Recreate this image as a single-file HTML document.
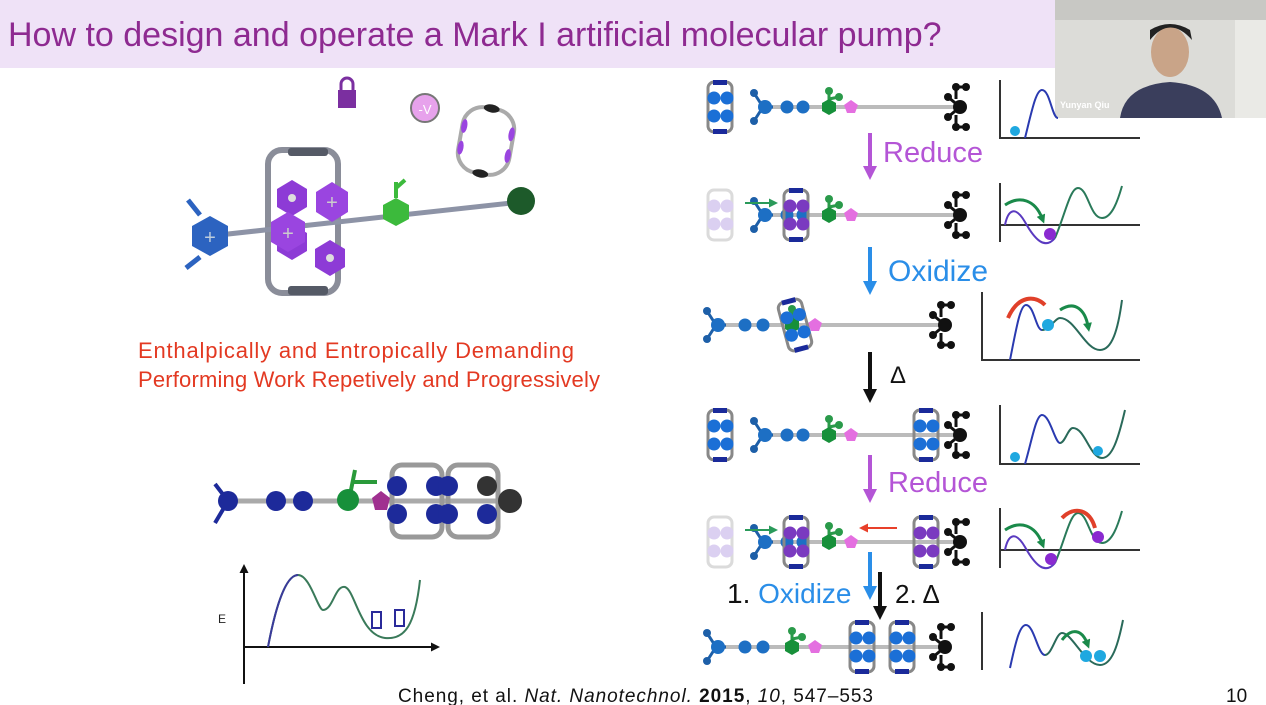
<!DOCTYPE html>
<html><head><meta charset="utf-8"><style>
html,body{margin:0;padding:0;background:#fff;}
svg{display:block;font-family:"Liberation Sans",Arial,sans-serif;}
</style></head><body>
<svg width="1266" height="705" viewBox="0 0 1266 705" xmlns="http://www.w3.org/2000/svg">
<defs>
 <marker id="ah" markerUnits="userSpaceOnUse" markerWidth="14" markerHeight="14" refX="4" refY="7" orient="auto"><path d="M0,0 L14,7 L0,14 z" fill="context-stroke"/></marker>
 <marker id="as" markerUnits="userSpaceOnUse" markerWidth="9" markerHeight="9" refX="3" refY="4.5" orient="auto"><path d="M0,0 L9,4.5 L0,9 z" fill="context-stroke"/></marker>
 <g id="ringB">
  <rect x="-12" y="-25" width="24" height="50" rx="6" fill="none" stroke="#888" stroke-width="3"/>
  <rect x="-7" y="-27" width="14" height="5" fill="#1a2a9a"/><rect x="-7" y="22" width="14" height="5" fill="#1a2a9a"/>
  <circle cx="-6" cy="-9" r="6.5" fill="#1b6fd6"/><circle cx="7" cy="-9" r="6.5" fill="#1b6fd6"/>
  <circle cx="-6" cy="9" r="6.5" fill="#1b6fd6"/><circle cx="7" cy="9" r="6.5" fill="#1b6fd6"/>
 </g>
 <g id="ringP">
  <rect x="-12" y="-25" width="24" height="50" rx="6" fill="none" stroke="#888" stroke-width="3"/>
  <rect x="-7" y="-27" width="14" height="5" fill="#1a2a9a"/><rect x="-7" y="22" width="14" height="5" fill="#1a2a9a"/>
  <circle cx="-6" cy="-9" r="6.5" fill="#7a3ac0"/><circle cx="7" cy="-9" r="6.5" fill="#7a3ac0"/>
  <circle cx="-6" cy="9" r="6.5" fill="#7a3ac0"/><circle cx="7" cy="9" r="6.5" fill="#7a3ac0"/>
 </g>
 <g id="ringF" opacity="0.35">
  <rect x="-12" y="-25" width="24" height="50" rx="6" fill="none" stroke="#999" stroke-width="3"/>
  <circle cx="-6" cy="-9" r="6.5" fill="#9a7ad8"/><circle cx="7" cy="-9" r="6.5" fill="#9a7ad8"/>
  <circle cx="-6" cy="9" r="6.5" fill="#9a7ad8"/><circle cx="7" cy="9" r="6.5" fill="#9a7ad8"/>
 </g>
 <g id="tri">
  <path d="M0,0 L-9,-14 M0,0 L-9,14 M0,0 L10,0" stroke="#1d5fa8" stroke-width="3"/>
  <circle cx="-9" cy="-14" r="4" fill="#1d5fa8"/><circle cx="-9" cy="14" r="4" fill="#1d5fa8"/>
  <circle cx="2" cy="0" r="7" fill="#1d6fc4"/>
 </g>
 <g id="stop">
  <path d="M0,0 L-12,-10 M0,0 L-12,10 M-4,-8 L-4,-20 M-4,8 L-4,20 M-4,-20 L6,-20 M-4,20 L6,20" stroke="#111" stroke-width="3"/>
  <circle cx="0" cy="0" r="7" fill="#111"/>
  <circle cx="-12" cy="-10" r="4" fill="#111"/><circle cx="-12" cy="10" r="4" fill="#111"/>
  <circle cx="-4" cy="-20" r="4" fill="#111"/><circle cx="-4" cy="20" r="4" fill="#111"/>
  <circle cx="6" cy="-20" r="4" fill="#111"/><circle cx="6" cy="20" r="4" fill="#111"/>
 </g>
 <g id="grn">
  <path d="M0,0 L0,-16 M0,-8 L10,-10" stroke="#2a9a4a" stroke-width="3"/>
  <circle cx="0" cy="-16" r="4" fill="#2a9a4a"/><circle cx="10" cy="-10" r="4" fill="#2a9a4a"/>
  <polygon points="0,-8 7,-4 7,4 0,8 -7,4 -7,-4" fill="#17903a"/>
 </g>
 <polygon id="pent" points="0,-7 7,-2 4,6 -4,6 -7,-2" fill="#e46fe0"/>
 <g id="thread">
  <line x1="760" y1="0" x2="955" y2="0" stroke="#bbb" stroke-width="4"/>
  <use href="#tri" x="763" y="0"/>
  <circle cx="787" cy="0" r="6.5" fill="#1d6fc4"/><circle cx="803" cy="0" r="6.5" fill="#1d6fc4"/>
  <use href="#grn" x="829" y="0"/>
  <use href="#pent" x="851" y="0"/>
  <use href="#stop" x="960" y="0"/>
 </g>
 <g id="thread2">
  <line x1="712" y1="0" x2="945" y2="0" stroke="#bbb" stroke-width="4"/>
  <use href="#tri" x="716" y="0"/>
  <circle cx="745" cy="0" r="6.5" fill="#1d6fc4"/><circle cx="763" cy="0" r="6.5" fill="#1d6fc4"/>
  <use href="#grn" x="792" y="0"/>
  <use href="#pent" x="815" y="0"/>
  <use href="#stop" x="945" y="0"/>
 </g>
</defs>

<!-- title bar -->
<rect x="0" y="0" width="1060" height="68" fill="#efe2f7"/>
<text x="8" y="46" font-size="34" fill="#8e2a91">How to design and operate a Mark I artificial molecular pump?</text>

<!-- webcam -->
<rect x="1055" y="0" width="211" height="118" fill="#dcdcd8"/>
<rect x="1055" y="0" width="211" height="20" fill="#c8c8c4"/>
<rect x="1235" y="20" width="31" height="98" fill="#eaeae6"/>
<ellipse cx="1170" cy="52" rx="19" ry="25" fill="#c9a488"/>
<path d="M1150,40 Q1170,15 1192,40 L1190,30 Q1170,18 1150,30z" fill="#222"/>
<path d="M1120,118 Q1125,85 1170,82 Q1215,85 1222,118z" fill="#3a3e5c"/>
<text x="1060" y="108" font-size="9" font-weight="bold" fill="#fff">Yunyan Qiu</text>

<!-- left top molecule -->
<g>
 <rect x="268" y="150" width="70" height="143" rx="14" fill="none" stroke="#8a8d99" stroke-width="6"/>
 <rect x="288" y="148" width="40" height="8" rx="3" fill="#555a66"/>
 <rect x="288" y="286" width="40" height="9" rx="3" fill="#555a66"/>
 <line x1="210" y1="236" x2="520" y2="202" stroke="#8d93a6" stroke-width="5"/>
 <path d="M200,215 L188,200 M200,257 L186,268" stroke="#2c63c0" stroke-width="5"/>
 <polygon points="210,216 228,226 228,246 210,256 192,246 192,226" fill="#2c63c0"/>
 <text x="210" y="244" font-size="20" fill="#bcd" text-anchor="middle">+</text>
 <polygon points="292,180 307,189 307,207 292,216 277,207 277,189" fill="#8d3bd6"/>
 <circle cx="292" cy="198" r="4" fill="#ddd"/>
 <polygon points="292,224 307,233 307,251 292,260 277,251 277,233" fill="#8d3bd6"/>
 <polygon points="288,212 305,222 305,242 288,252 271,242 271,222" fill="#9a45e0"/>
 <text x="288" y="240" font-size="20" fill="#ccc" text-anchor="middle">+</text>
 <polygon points="332,182 348,192 348,212 332,222 316,212 316,192" fill="#9a45e0"/>
 <text x="332" y="209" font-size="20" fill="#ccc" text-anchor="middle">+</text>
 <polygon points="330,240 345,249 345,267 330,276 315,267 315,249" fill="#8d3bd6"/>
 <circle cx="330" cy="258" r="4" fill="#ddd"/>
 <path d="M396,198 L396,182 M396,188 L405,180" stroke="#3cba3c" stroke-width="4"/>
 <polygon points="396,198 409,205 409,219 396,226 383,219 383,205" fill="#3cba3c"/>
 <circle cx="521" cy="201" r="14" fill="#1d5a2a"/>
 <rect x="338" y="90" width="18" height="18" fill="#7b2fa0"/>
 <path d="M341,90 v-6 a6,6 0 0 1 12,0 v6" fill="none" stroke="#7b2fa0" stroke-width="3"/>
 <circle cx="425" cy="108" r="14" fill="#e7a2ec" stroke="#777" stroke-width="2"/>
 <text x="425" y="114" font-size="13" fill="#fff" text-anchor="middle">-V</text>
 <g transform="rotate(10 486 141)">
  <rect x="460" y="108" width="52" height="66" rx="20" fill="none" stroke="#aaa" stroke-width="4"/>
  <ellipse cx="462" cy="130" rx="3" ry="7" fill="#9a45e0"/><ellipse cx="462" cy="152" rx="3" ry="7" fill="#9a45e0"/>
  <ellipse cx="510" cy="130" rx="3" ry="7" fill="#9a45e0"/><ellipse cx="510" cy="152" rx="3" ry="7" fill="#9a45e0"/>
  <ellipse cx="486" cy="108" rx="8" ry="4" fill="#222"/><ellipse cx="486" cy="174" rx="8" ry="4" fill="#222"/>
 </g>
</g>

<!-- red text -->
<text x="356" y="358" font-size="22" fill="#e33922" text-anchor="middle" textLength="436">Enthalpically and Entropically Demanding</text>
<text x="369" y="387" font-size="22" fill="#e33922" text-anchor="middle" textLength="462">Performing Work Repetively and Progressively</text>

<!-- bottom left molecule -->
<g>
 <line x1="225" y1="501" x2="510" y2="501" stroke="#aaa" stroke-width="5"/>
 <rect x="392" y="465" width="50" height="72" rx="10" fill="none" stroke="#999" stroke-width="5"/>
 <rect x="448" y="465" width="50" height="72" rx="10" fill="none" stroke="#999" stroke-width="5"/>
 <path d="M228,501 L215,484 M228,501 L215,523" stroke="#1d2a9a" stroke-width="4"/>
 <circle cx="228" cy="501" r="10" fill="#1d2a9a"/>
 <circle cx="276" cy="501" r="10" fill="#1d2a9a"/><circle cx="303" cy="501" r="10" fill="#1d2a9a"/>
 <path d="M350,495 L355,470 M352,482 L377,482" stroke="#2a9a3a" stroke-width="4"/>
 <circle cx="348" cy="500" r="11" fill="#17903a"/>
 <polygon points="381,491 390,498 387,510 375,510 372,498" fill="#a03090"/>
 <circle cx="397" cy="486" r="10" fill="#1d2a9a"/><circle cx="397" cy="514" r="10" fill="#1d2a9a"/>
 <circle cx="436" cy="486" r="10" fill="#1d2a9a"/><circle cx="448" cy="486" r="10" fill="#1d2a9a"/>
 <circle cx="436" cy="514" r="10" fill="#1d2a9a"/><circle cx="448" cy="514" r="10" fill="#1d2a9a"/>
 <circle cx="487" cy="486" r="10" fill="#333"/><circle cx="487" cy="514" r="10" fill="#1d2a9a"/>
 <circle cx="510" cy="501" r="12" fill="#333"/>
</g>
<!-- bottom left energy plot -->
<g fill="none" stroke-width="2">
 <line x1="244" y1="684" x2="244" y2="570" stroke="#111" marker-end="url(#as)"/>
 <line x1="244" y1="647" x2="434" y2="647" stroke="#111" marker-end="url(#as)"/>
 <path d="M268,647 C275,610 285,575 298,575 C310,575 318,610 323,610 C333,610 335,585 345,587 C355,590 360,635 385,638 C405,640 415,625 420,580" stroke="#3a7a5a"/>
 <path d="M268,647 C275,610 285,575 298,575" stroke="#3a3a9a"/>
 <rect x="372" y="612" width="9" height="16" stroke="#2a2a9a"/>
 <rect x="395" y="610" width="9" height="16" stroke="#2a2a9a"/>
</g>
<text x="218" y="623" font-size="12" fill="#222">E</text>

<!-- right: molecule rows -->
<g transform="translate(0,107)"><use href="#ringB" x="720" y="0"/><use href="#thread"/></g>
<g transform="translate(0,215)"><use href="#ringF" x="720" y="0"/><use href="#thread"/><use href="#ringP" x="796" y="0"/>
 <line x1="745" y1="-12" x2="772" y2="-12" stroke="#2a9a5a" stroke-width="2" marker-end="url(#as)"/></g>
<g transform="translate(0,325)"><use href="#thread2"/><use href="#ringB" x="795" y="0" transform="rotate(-15 795 0)"/></g>
<g transform="translate(0,435)"><use href="#ringB" x="720" y="0"/><use href="#thread"/><use href="#ringB" x="926" y="0"/></g>
<g transform="translate(0,542)"><use href="#ringF" x="720" y="0"/><use href="#thread"/><use href="#ringP" x="796" y="0"/><use href="#ringP" x="926" y="0"/>
 <line x1="745" y1="-12" x2="772" y2="-12" stroke="#2a9a5a" stroke-width="2" marker-end="url(#as)"/>
 <line x1="897" y1="-14" x2="865" y2="-14" stroke="#e8402a" stroke-width="2" marker-end="url(#as)"/></g>
<g transform="translate(0,647)"><use href="#thread2"/><use href="#ringB" x="862" y="0"/><use href="#ringB" x="902" y="0"/></g>

<!-- arrows & labels -->
<g stroke-width="4">
 <line x1="870" y1="133" x2="870" y2="170" stroke="#b455d6" marker-end="url(#ah)"/>
 <line x1="870" y1="247" x2="870" y2="285" stroke="#2a8ee8" marker-end="url(#ah)"/>
 <line x1="870" y1="352" x2="870" y2="393" stroke="#111" marker-end="url(#ah)"/>
 <line x1="870" y1="455" x2="870" y2="493" stroke="#b455d6" marker-end="url(#ah)"/>
 <line x1="870" y1="552" x2="870" y2="590" stroke="#2a8ee8" marker-end="url(#ah)"/>
 <line x1="880" y1="572" x2="880" y2="610" stroke="#111" marker-end="url(#ah)"/>
</g>
<text x="883" y="162" font-size="29" fill="#b455d6">Reduce</text>
<text x="888" y="281" font-size="30" fill="#2a8ee8">Oxidize</text>
<text x="890" y="383" font-size="24" fill="#111">Δ</text>
<text x="888" y="492" font-size="29" fill="#b455d6">Reduce</text>
<text x="727" y="603" font-size="28" fill="#111">1. <tspan fill="#2a8ee8">Oxidize</tspan></text>
<text x="895" y="603" font-size="26" fill="#111">2. Δ</text>

<!-- energy plots -->
<g fill="none" stroke-width="2">
 <path d="M1000,80 V138 H1140" stroke="#333"/>
 <path d="M1025,138 C1032,110 1036,90 1042,90 C1050,90 1052,118 1058,118" stroke="#2a3ab0"/>
 <path d="M1000,183 V242 M1000,225 H1140" stroke="#333"/>
 <path d="M1005,225 C1008,210 1015,205 1025,222 C1035,240 1045,250 1055,238" stroke="#5a3ac0"/>
 <path d="M1055,238 C1065,215 1070,188 1078,188 C1088,188 1090,218 1102,218 C1112,218 1118,200 1122,186" stroke="#2a7a5a"/>
 <path d="M1005,205 C1020,195 1035,200 1042,218" stroke="#1a8a4a" stroke-width="3" marker-end="url(#as)"/>
 <path d="M982,292 V360 H1140" stroke="#333"/>
 <path d="M1010,360 C1016,330 1020,305 1026,305 C1034,305 1036,330 1042,330" stroke="#2a3ab0"/>
 <path d="M1042,330 C1050,330 1055,318 1060,318 C1075,318 1085,350 1100,350 C1112,350 1118,330 1122,300" stroke="#2a6a5a"/>
 <path d="M1008,318 C1018,295 1035,295 1045,305" stroke="#e0402a" stroke-width="4"/>
 <path d="M1060,310 C1075,300 1085,310 1088,326" stroke="#1a8a4a" stroke-width="3" marker-end="url(#as)"/>
 <path d="M1000,405 V464 H1140" stroke="#333"/>
 <path d="M1025,464 C1032,440 1036,415 1042,415 C1050,415 1055,443 1060,443" stroke="#2a3ab0"/>
 <path d="M1060,443 C1065,443 1068,428 1073,428 C1085,428 1090,458 1102,458 C1112,458 1118,440 1125,410" stroke="#2a6a5a"/>
 <path d="M1000,508 V568 M1000,550 H1140" stroke="#333"/>
 <path d="M1005,550 C1008,535 1015,530 1025,547 C1035,565 1045,575 1055,563" stroke="#5a3ac0"/>
 <path d="M1055,563 C1065,540 1070,513 1078,513 C1088,513 1090,543 1102,543 C1112,543 1118,525 1122,511" stroke="#2a7a5a"/>
 <path d="M1005,530 C1020,520 1035,525 1042,543" stroke="#1a8a4a" stroke-width="3" marker-end="url(#as)"/>
 <path d="M1062,518 C1075,505 1090,510 1095,528" stroke="#e0402a" stroke-width="4"/>
 <path d="M982,612 V670" stroke="#333"/>
 <path d="M1010,668 C1016,640 1020,625 1026,625 C1034,625 1038,655 1045,655" stroke="#2a3ab0"/>
 <path d="M1045,655 C1052,655 1056,633 1062,633 C1072,633 1085,665 1100,665 C1112,665 1118,645 1123,620" stroke="#2a6a5a"/>
 <path d="M1062,640 C1072,627 1082,630 1087,643" stroke="#1a8a4a" stroke-width="3" marker-end="url(#as)"/>
</g>
<g>
 <circle cx="1015" cy="131" r="5" fill="#1fa8e0"/>
 <circle cx="1050" cy="234" r="6" fill="#8a2ad0"/>
 <circle cx="1048" cy="325" r="6" fill="#1fa8e0"/>
 <circle cx="1015" cy="457" r="5" fill="#1fa8e0"/>
 <circle cx="1098" cy="451" r="5" fill="#1fa8e0"/>
 <circle cx="1051" cy="559" r="6" fill="#8a2ad0"/>
 <circle cx="1098" cy="537" r="6" fill="#8a2ad0"/>
 <circle cx="1086" cy="656" r="6" fill="#1fa8e0"/>
 <circle cx="1100" cy="656" r="6" fill="#1fa8e0"/>
</g>

<!-- footer -->
<text x="398" y="702" font-size="19" fill="#111" textLength="475">Cheng, et al. <tspan font-style="italic">Nat. Nanotechnol.</tspan> <tspan font-weight="bold">2015</tspan>, <tspan font-style="italic">10</tspan>, 547–553</text>
<text x="1226" y="702" font-size="19" fill="#111">10</text>
</svg>
</body></html>
